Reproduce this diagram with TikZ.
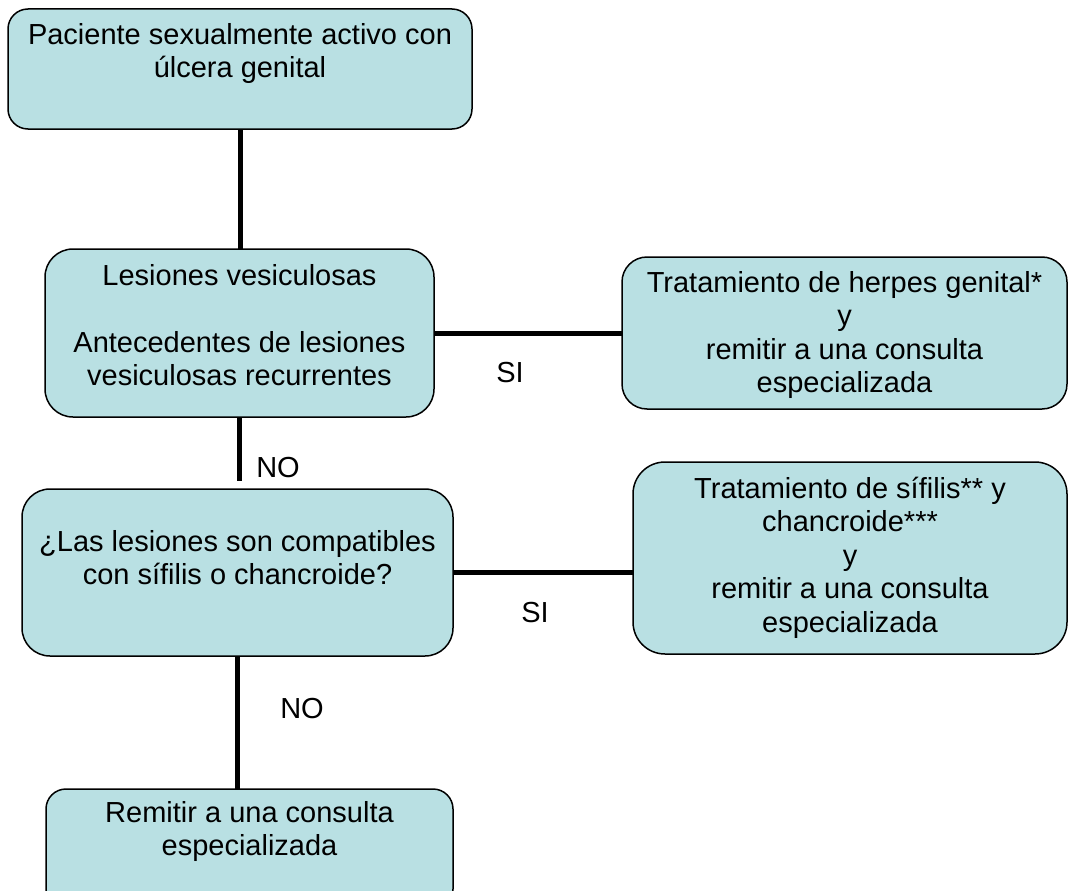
\documentclass[tikz,border=0pt]{standalone}
\usepackage{fontspec}
\setmainfont{Liberation Sans}
\definecolor{boxfill}{RGB}{185,224,227}
\tikzset{
  box/.style={draw=black, line width=1.5pt, fill=boxfill, inner sep=0pt, outer sep=0pt},
  conn/.style={draw=black, line width=5pt},
  lbl/.style={font=\fontsize{29}{33.5}\selectfont, inner sep=0pt, anchor=base},
}
\newcommand{\boxtext}[4]{\parbox[c][#2pt][t]{#1pt}{\fontsize{29}{33.5}\selectfont\centering\rule{0pt}{#3pt}#4}}
\begin{document}
\begin{tikzpicture}[x=1pt,y=-1pt]
\useasboundingbox (0,0) rectangle (1068,891);
\clip (0,0) rectangle (1068,891);
\fill[white] (0,0) rectangle (1068,891);
% boxes
\node[box, rounded corners=20pt, minimum width=464pt, minimum height=120pt] (b1) at (240,69)
  {\boxtext{464}{120}{35}{Paciente sexualmente activo con\\úlcera genital}};
\node[box, rounded corners=28pt, minimum width=389pt, minimum height=168pt] (b2) at (239.5,333)
  {\boxtext{389}{168}{36}{Lesiones vesiculosas\\[33.5pt]Antecedentes de lesiones\\vesiculosas recurrentes}};
\node[box, rounded corners=28pt, minimum width=431pt, minimum height=167pt] (b3) at (237.5,572.5)
  {\boxtext{431}{167}{62}{¿Las lesiones son compatibles\\con sífilis o chancroide?}};
\node[box, rounded corners=25pt, minimum width=445pt, minimum height=152pt] (r1) at (844.5,333)
  {\boxtext{445}{152}{35}{Tratamiento de herpes genital*\\y\\remitir a una consulta\\especializada}};
\node[box, rounded corners=32pt, minimum width=434pt, minimum height=192pt] (r2) at (850,558)
  {\boxtext{434}{192}{36}{Tratamiento de sífilis** y\\chancroide***\\y\\remitir a una consulta\\especializada}};
\node[box, rounded corners=20pt, minimum width=407pt, minimum height=120pt] (b5) at (249.5,849)
  {\boxtext{407}{120}{33}{Remitir a una consulta\\especializada}};
% connectors
\coordinate (c1) at (239,481);
\draw[conn] (b1.south) -- (b1.south |- b2.north);
\draw[conn] (b2.south -| c1) -- (c1);
\draw[conn] (b2.east) -- (b2.east -| r1.west);
\draw[conn] (b3.east) -- (b3.east -| r2.west);
\draw[conn] (b3.south) -- (b3.south |- b5.north);
% labels
\node[lbl] (no1) at (278,477) {NO};
\node[lbl] (si1) at (510,382) {SI};
\node[lbl] (si2) at (535,622) {SI};
\node[lbl] (no2) at (302,718) {NO};
\end{tikzpicture}
\end{document}
